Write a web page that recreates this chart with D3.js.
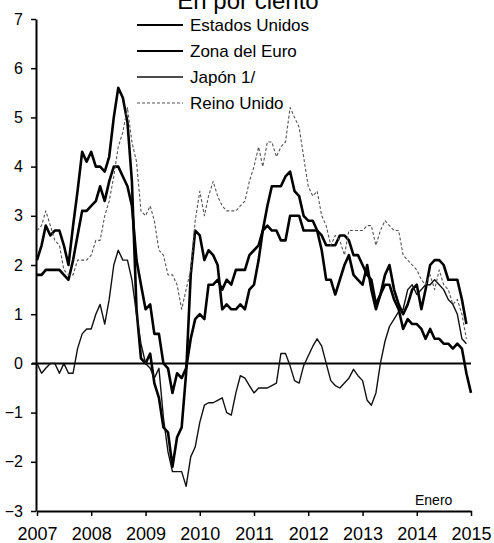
<!DOCTYPE html>
<html>
<head>
<meta charset="utf-8">
<script src="https://cdnjs.cloudflare.com/ajax/libs/d3/7.8.5/d3.min.js"></script>
<style>
  body { margin: 0; background: #fff; }
  svg { display: block; font-family: "Liberation Sans", Arial, sans-serif; }
</style>
</head>
<body>
<svg id="chart" width="494" height="543"></svg>
<script>
// monthly inflation, first point = Jan 2007
const START = new Date(2007, 0, 1);
const YEARS = [2007, 2008, 2009, 2010, 2011, 2012, 2013, 2014, 2015];
const Y_TICKS = [-3, -2, -1, 0, 1, 2, 3, 4, 5, 6, 7];

const usa = [
  2.1, 2.4, 2.8, 2.6, 2.7, 2.7, 2.4, 2.0, 2.8, 3.5, 4.3, 4.1,
  4.3, 4.0, 4.0, 3.9, 4.2, 5.0, 5.6, 5.4, 4.9, 3.7, 1.1, 0.1,
  0.0, 0.2, -0.4, -0.7, -1.3, -1.4, -2.1, -1.5, -1.3, -0.2, 1.8, 2.7,
  2.6, 2.1, 2.3, 2.2, 2.0, 1.1, 1.2, 1.1, 1.1, 1.2, 1.1, 1.5,
  1.6, 2.1, 2.7, 3.2, 3.6, 3.6, 3.6, 3.8, 3.9, 3.5, 3.4, 3.0,
  2.9, 2.9, 2.7, 2.3, 1.7, 1.7, 1.4, 1.7, 2.0, 2.2, 1.8, 1.7,
  1.6, 2.0, 1.5, 1.1, 1.4, 1.8, 2.0, 1.5, 1.2, 1.0, 1.2, 1.5,
  1.6, 1.1, 1.5, 2.0, 2.1, 2.1, 2.0, 1.7, 1.7, 1.7, 1.3, 0.8
];

const euro = [
  1.8, 1.8, 1.9, 1.9, 1.9, 1.9, 1.8, 1.7, 2.1, 2.6, 3.1, 3.1,
  3.2, 3.3, 3.6, 3.3, 3.7, 4.0, 4.0, 3.8, 3.6, 3.2, 2.1, 1.6,
  1.1, 1.2, 0.6, 0.6, 0.0, -0.1, -0.6, -0.2, -0.3, -0.1, 0.5, 0.9,
  1.0, 0.9, 1.6, 1.6, 1.7, 1.5, 1.7, 1.6, 1.9, 1.9, 1.9, 2.2,
  2.3, 2.4, 2.7, 2.8, 2.7, 2.7, 2.5, 2.5, 3.0, 3.0, 3.0, 2.7,
  2.7, 2.7, 2.7, 2.6, 2.4, 2.4, 2.4, 2.6, 2.6, 2.5, 2.2, 2.2,
  2.0, 1.8, 1.7, 1.2, 1.4, 1.6, 1.6, 1.3, 1.1, 0.7, 0.9, 0.8,
  0.8, 0.7, 0.5, 0.7, 0.5, 0.5, 0.4, 0.4, 0.3, 0.4, 0.3, -0.2,
  -0.6
];

const japan = [
  0.0, -0.2, -0.1, 0.0, 0.0, -0.2, 0.0, -0.2, -0.2, 0.3, 0.6, 0.7,
  0.7, 1.0, 1.2, 0.8, 1.3, 2.0, 2.3, 2.1, 2.1, 1.7, 1.0, 0.4,
  0.0, -0.1, -0.3, -0.1, -1.1, -1.8, -2.2, -2.2, -2.2, -2.5, -1.9, -1.7,
  -1.2, -0.85, -0.8, -0.8, -0.75, -0.7, -1.0, -1.05, -0.6, -0.25, -0.3, -0.45,
  -0.6, -0.5, -0.5, -0.5, -0.45, -0.4, 0.2, 0.2, -0.05, -0.35, -0.4, -0.05,
  0.15, 0.35, 0.5, 0.35, 0.0, -0.35, -0.45, -0.5, -0.4, -0.3, -0.12, -0.25,
  -0.35, -0.75, -0.85, -0.6, 0.0, 0.45, 0.75, 0.9, 1.05, 1.1, 1.5, 1.6,
  1.4, 1.5, 1.6, 1.6, 1.7, 1.6, 1.5, 1.3, 1.2, 1.0, 0.5, 0.4
];

const uk = [
  2.7, 2.8, 3.1, 2.8, 2.5, 2.4, 1.9, 1.8, 1.8, 2.1, 2.1, 2.1,
  2.2, 2.5, 2.5, 3.0, 3.3, 3.8, 4.4, 4.7, 5.2, 4.5, 4.1, 3.1,
  3.0, 3.2, 2.9, 2.3, 2.2, 1.8, 1.8, 1.6, 1.1, 1.5, 1.9, 2.9,
  3.5, 3.0, 3.4, 3.7, 3.4, 3.2, 3.1, 3.1, 3.1, 3.2, 3.3, 3.7,
  4.0, 4.4, 4.0, 4.5, 4.5, 4.2, 4.4, 4.5, 5.2, 5.0, 4.8, 4.2,
  3.6, 3.4, 3.5, 3.0, 2.8, 2.4, 2.6, 2.5, 2.2, 2.7, 2.7, 2.7,
  2.7, 2.8, 2.8, 2.4, 2.7, 2.9, 2.8, 2.7, 2.7, 2.2, 2.1, 2.0,
  1.9, 1.7, 1.6, 1.8, 1.5, 1.9, 1.6, 1.5, 1.2, 1.3, 1.0, 0.5
];

const NAMES = ['Estados Unidos', 'Zona del Euro', 'Japón 1/', 'Reino Unido'];
const SERIES = [usa, euro, japan, uk];
const STYLES = [
  { stroke: '#000', width: 2.6, dash: null },
  { stroke: '#000', width: 2.6, dash: null },
  { stroke: '#111', width: 1.4, dash: null },
  { stroke: '#555', width: 1.1, dash: '3,2' }
];

const svg = d3.select('#chart');

const x = d3.scaleTime()
  .domain([new Date(2007, 0, 1), new Date(2015, 0, 1)])
  .range([37, 471]);
const y = d3.scaleLinear()
  .domain([-3, 7])
  .range([511, 19]);

// axes
const yAxis = svg.append('g')
  .attr('transform', 'translate(36,0)')
  .call(d3.axisLeft(y).tickValues(Y_TICKS).tickSize(5).tickSizeOuter(0).tickPadding(8));
yAxis.selectAll('text').style('font-size', '16px').attr('fill', '#000');

const xAxis = svg.append('g')
  .attr('transform', 'translate(0,' + y(-3) + ')')
  .call(d3.axisBottom(x)
    .tickValues(YEARS.map(yr => new Date(yr, 0, 1)))
    .tickFormat(d3.timeFormat('%Y'))
    .tickSize(5).tickSizeOuter(0).tickPadding(11));
xAxis.selectAll('text').style('font-size', '18px').attr('fill', '#000');

svg.selectAll('.domain').attr('stroke', '#000').attr('stroke-width', 2);
svg.selectAll('.tick line').attr('stroke', '#000').attr('stroke-width', 1.5);

// zero line
svg.append('line')
  .attr('x1', 32).attr('x2', 471)
  .attr('y1', y(0)).attr('y2', y(0))
  .attr('stroke', '#000').attr('stroke-width', 2);

// series
const line = d3.line()
  .x((d, i) => x(d3.timeMonth.offset(START, i)))
  .y(d => y(d));

SERIES.forEach((vals, k) => {
  svg.append('path')
    .datum(vals)
    .attr('fill', 'none')
    .attr('stroke', STYLES[k].stroke)
    .attr('stroke-width', STYLES[k].width)
    .attr('stroke-dasharray', STYLES[k].dash)
    .attr('stroke-linejoin', 'round')
    .attr('d', line);
});

// legend
const legend = svg.append('g');
NAMES.forEach((name, k) => {
  const ly = 25 + k * 26;
  legend.append('line')
    .attr('x1', 137).attr('x2', 183)
    .attr('y1', ly).attr('y2', ly)
    .attr('stroke', STYLES[k].stroke)
    .attr('stroke-width', Math.min(STYLES[k].width, 2))
    .attr('stroke-dasharray', STYLES[k].dash);
  legend.append('text')
    .attr('x', 190).attr('y', ly + 6)
    .style('font-size', '17px')
    .text(name);
});

// title (cut at top in the original)
svg.append('text')
  .attr('x', 248).attr('y', 9)
  .attr('text-anchor', 'middle')
  .style('font-size', '24px')
  .text('En por ciento');

svg.append('text')
  .attr('x', 415).attr('y', 505)
  .style('font-size', '14px')
  .text('Enero');
</script>
</body>
</html>
